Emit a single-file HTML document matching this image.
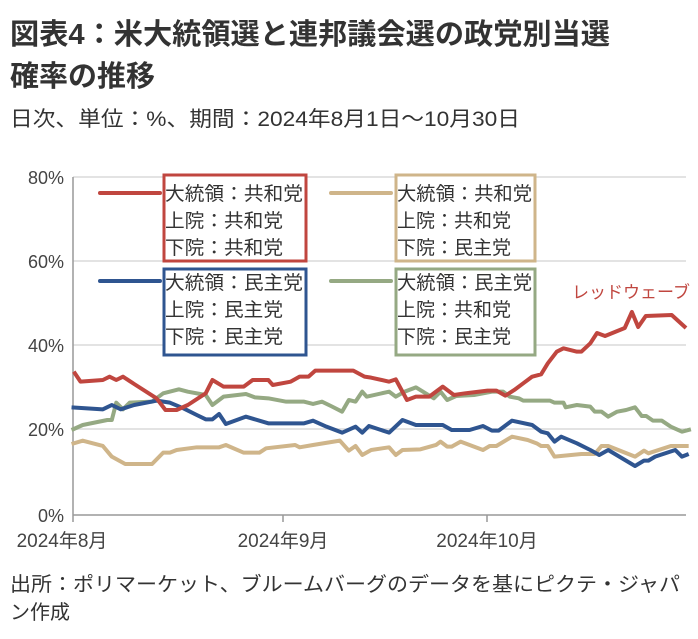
<!DOCTYPE html>
<html><head><meta charset="utf-8"><style>
body{margin:0;background:#fff;width:698px;height:639px;overflow:hidden;font-family:"Liberation Sans","Noto Sans CJK JP",sans-serif;color:#333}
</style></head><body>
<svg width="698" height="639" xmlns="http://www.w3.org/2000/svg" style="position:absolute;left:0;top:0;font-family:'Liberation Sans','Noto Sans CJK JP',sans-serif">
<text x="10" y="44" font-size="29" font-weight="bold" fill="#333" textLength="600" lengthAdjust="spacingAndGlyphs">図表4：米大統領選と連邦議会選の政党別当選</text>
<text x="10" y="86" font-size="29" font-weight="bold" fill="#333">確率の推移</text>
<text x="10" y="126" font-size="21" fill="#333" textLength="510" lengthAdjust="spacingAndGlyphs">日次、単位：%、期間：2024年8月1日～10月30日</text>
<g stroke="#e3e3e3" stroke-width="2">
<line x1="73" y1="177" x2="686" y2="177"/><line x1="73" y1="261" x2="686" y2="261"/><line x1="73" y1="345" x2="686" y2="345"/><line x1="73" y1="429" x2="686" y2="429"/>
</g>
<g stroke="#999" stroke-width="1.5"><line x1="73" y1="177" x2="73" y2="515"/><line x1="73" y1="515" x2="686" y2="515"/>
<line x1="73" y1="515" x2="73" y2="522"/><line x1="283" y1="515" x2="283" y2="522"/><line x1="487" y1="515" x2="487" y2="522"/></g>
<g font-size="18" fill="#444" text-anchor="end"><text x="64" y="184">80%</text><text x="64" y="268">60%</text><text x="64" y="352">40%</text><text x="64" y="436">20%</text><text x="64" y="522">0%</text></g>
<g font-size="19" fill="#444" text-anchor="middle"><text x="62" y="547">2024年8月</text><text x="283" y="547">2024年9月</text><text x="487" y="547">2024年10月</text></g>
<g transform="translate(0,330) scale(0.4472,0.3333)" fill="none" stroke-width="4" stroke-linejoin="round">
<polyline vector-effect="non-scaling-stroke" stroke="#cfb58a" points="160,342 185,332 230,348 250,380 280,402 340,402 365,368 380,368 395,360 440,352 490,352 505,345 545,368 580,368 595,355 660,345 670,352 700,345 760,332 780,362 795,348 810,375 830,360 870,352 885,375 900,360 940,358 975,345 985,335 1000,350 1010,350 1030,335 1080,360 1095,348 1110,348 1145,320 1180,330 1200,340 1210,348 1225,348 1240,380 1300,372 1330,372 1345,348 1360,348 1420,380 1440,362 1450,370 1500,348 1540,348"/>
<polyline vector-effect="non-scaling-stroke" stroke="#95a983" points="160,300 185,285 240,270 250,270 260,218 275,238 290,218 340,215 365,190 400,178 420,185 460,195 475,225 500,200 550,192 570,202 600,205 640,215 680,215 700,222 720,215 740,228 765,245 780,210 795,215 810,185 820,200 870,185 885,200 905,185 930,172 970,205 985,185 1000,210 1020,198 1060,195 1100,185 1125,185 1140,200 1160,205 1170,212 1230,212 1240,218 1260,218 1265,232 1290,225 1320,230 1330,245 1345,245 1360,260 1380,245 1400,240 1420,232 1435,258 1445,258 1460,272 1480,272 1500,290 1525,305 1545,298"/>
<polyline vector-effect="non-scaling-stroke" stroke="#2f5590" points="160,232 230,238 250,225 270,238 300,225 350,212 380,218 410,235 440,255 460,268 475,268 490,252 505,282 550,260 600,280 680,280 700,272 730,290 765,308 795,290 810,308 825,288 870,308 900,270 930,285 990,285 1010,300 1050,300 1080,288 1100,302 1115,302 1145,272 1190,285 1210,305 1225,310 1240,335 1255,320 1290,340 1320,360 1340,375 1360,360 1420,408 1440,392 1450,392 1465,380 1510,360 1525,380 1540,372"/>
<polyline vector-effect="non-scaling-stroke" stroke="#c0463f" points="165,125 180,155 230,150 245,140 260,150 275,140 300,162 350,205 370,240 395,240 420,225 460,190 475,150 500,170 545,170 565,150 600,150 610,165 650,155 670,140 690,140 705,122 790,122 815,140 830,143 870,155 885,148 910,210 930,200 960,200 990,170 1015,195 1040,190 1090,182 1110,182 1130,197 1150,180 1170,160 1190,140 1210,133 1225,100 1245,65 1260,55 1290,65 1300,65 1320,40 1335,9 1353,18 1397,-6 1413,-54 1427,-9 1444,-42 1502,-45 1534,-6"/>
</g>
<text x="572" y="298" font-size="17" fill="#c0463f">レッドウェーブ</text>
<g stroke-width="4" stroke-linecap="round">
<line x1="100" y1="193" x2="160" y2="193" stroke="#c0463f"/><line x1="331" y1="193" x2="391" y2="193" stroke="#cfb58a"/>
<line x1="100" y1="281" x2="160" y2="281" stroke="#2f5590"/><line x1="331" y1="281" x2="391" y2="281" stroke="#95a983"/>
</g>
<g fill="#fff" stroke-width="3">
<rect x="164" y="175" width="142" height="86" stroke="#c0463f"/><rect x="396" y="175" width="139" height="86" stroke="#cfb58a"/>
<rect x="164" y="269" width="142" height="86" stroke="#2f5590"/><rect x="396" y="269" width="139" height="86" stroke="#95a983"/>
</g>
<g font-size="19" fill="#333">
<text x="165" y="200" textLength="138" lengthAdjust="spacingAndGlyphs">大統領：共和党</text><text x="165" y="227" textLength="118" lengthAdjust="spacingAndGlyphs">上院：共和党</text><text x="165" y="254" textLength="118" lengthAdjust="spacingAndGlyphs">下院：共和党</text>
<text x="397" y="200" textLength="135" lengthAdjust="spacingAndGlyphs">大統領：共和党</text><text x="397" y="227" textLength="114" lengthAdjust="spacingAndGlyphs">上院：共和党</text><text x="397" y="254" textLength="114" lengthAdjust="spacingAndGlyphs">下院：民主党</text>
<text x="165" y="289" textLength="138" lengthAdjust="spacingAndGlyphs">大統領：民主党</text><text x="165" y="316" textLength="118" lengthAdjust="spacingAndGlyphs">上院：民主党</text><text x="165" y="343" textLength="118" lengthAdjust="spacingAndGlyphs">下院：民主党</text>
<text x="397" y="289" textLength="135" lengthAdjust="spacingAndGlyphs">大統領：民主党</text><text x="397" y="316" textLength="114" lengthAdjust="spacingAndGlyphs">上院：共和党</text><text x="397" y="343" textLength="114" lengthAdjust="spacingAndGlyphs">下院：民主党</text>
</g>
<text x="10" y="591" font-size="20" fill="#333" textLength="670" lengthAdjust="spacingAndGlyphs">出所：ポリマーケット、ブルームバーグのデータを基にピクテ・ジャパ</text>
<text x="10" y="619" font-size="20" fill="#333">ン作成</text>
</svg>
</body></html>
